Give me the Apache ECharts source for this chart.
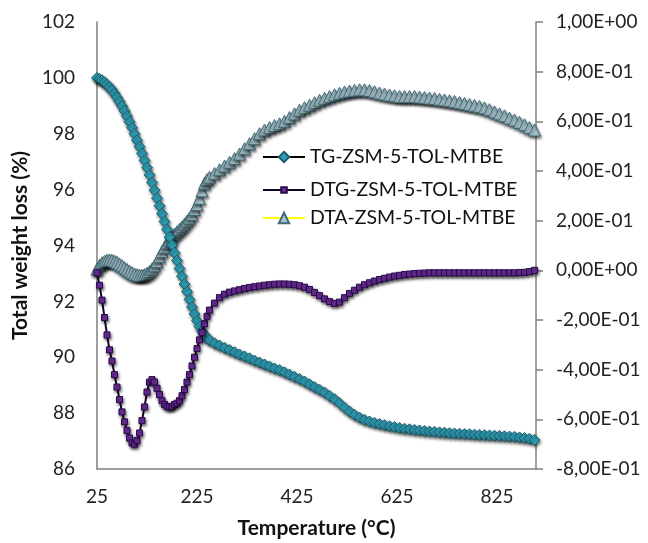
<!DOCTYPE html>
<html>
<head>
<meta charset="utf-8">
<script src="https://cdn.jsdelivr.net/npm/echarts@6/dist/echarts.min.js"></script>
<style>
  html, body { margin: 0; padding: 0; background: #ffffff; }
  #chart { width: 648px; height: 543px; }
</style>
</head>
<body>
<div id="chart"></div>
<script>
// Temperature readings (°C)
const temperatures = [
  25, 30, 35, 40, 45, 50, 55, 60, 65, 70,
  75, 80, 85, 90, 95, 100, 105, 110, 115, 120,
  125, 130, 135, 140, 145, 150, 155, 160, 165, 170,
  175, 180, 185, 190, 195, 200, 205, 210, 215, 220,
  225, 230, 235, 240, 245, 250,
  260, 270, 280, 290, 300, 310, 320, 330, 340, 350,
  360, 370, 380, 390, 400, 410, 420, 430, 440, 450,
  460, 470, 480, 490, 500, 510, 520, 530, 540, 550,
  560, 570, 580, 590, 600, 610, 620, 630, 640, 650,
  660, 670, 680, 690, 700, 710, 720, 730, 740, 750,
  760, 770, 780, 790, 800, 810, 820, 830, 840, 850,
  860, 870, 880, 890, 900
];

// TG: total weight (%)
const tgValues = [
  100.00, 99.96, 99.91, 99.84, 99.76, 99.67, 99.57, 99.44, 99.30, 99.15,
  98.99, 98.82, 98.63, 98.43, 98.22, 98.00, 97.77, 97.54, 97.30, 97.05,
  96.79, 96.53, 96.26, 95.98, 95.70, 95.42, 95.14, 94.86, 94.58, 94.30,
  94.02, 93.74, 93.46, 93.18, 92.90, 92.62, 92.35, 92.07, 91.80, 91.55,
  91.31, 91.10, 90.93, 90.80, 90.70, 90.62,
  90.50, 90.42, 90.34, 90.26, 90.18, 90.10, 90.03, 89.96, 89.88, 89.81,
  89.74, 89.67, 89.60, 89.54, 89.46, 89.38, 89.30, 89.22, 89.13, 89.03,
  88.93, 88.84, 88.74, 88.62, 88.50, 88.36, 88.20, 88.06, 87.94, 87.84,
  87.76, 87.70, 87.65, 87.61, 87.57, 87.53, 87.50, 87.47, 87.44, 87.42,
  87.40, 87.38, 87.36, 87.34, 87.33, 87.31, 87.30, 87.28, 87.27, 87.26,
  87.25, 87.24, 87.23, 87.22, 87.21, 87.20, 87.19, 87.18, 87.17, 87.16,
  87.15, 87.13, 87.11, 87.08, 87.04
];

// DTG signal (secondary axis)
const dtgValues = [
  -0.01, -0.06, -0.12, -0.19, -0.26, -0.32, -0.365, -0.42, -0.47, -0.52,
  -0.57, -0.61, -0.645, -0.675, -0.695, -0.70, -0.685, -0.655, -0.605, -0.55,
  -0.49, -0.45, -0.44, -0.45, -0.475, -0.50, -0.525, -0.54, -0.548, -0.55,
  -0.548, -0.54, -0.535, -0.525, -0.505, -0.48, -0.45, -0.42, -0.385, -0.35,
  -0.315, -0.28, -0.25, -0.215, -0.185, -0.16,
  -0.132, -0.11, -0.096, -0.088, -0.083, -0.078, -0.073, -0.069, -0.066, -0.063,
  -0.06, -0.058, -0.056, -0.055, -0.055, -0.056, -0.058, -0.062, -0.068, -0.077,
  -0.089, -0.102, -0.115, -0.126, -0.133, -0.128, -0.11, -0.093, -0.08, -0.068,
  -0.058, -0.05, -0.043, -0.037, -0.032, -0.027, -0.023, -0.02, -0.017, -0.015,
  -0.013, -0.012, -0.011, -0.01, -0.01, -0.01, -0.01, -0.01, -0.01, -0.01,
  -0.01, -0.01, -0.01, -0.01, -0.01, -0.01, -0.01, -0.01, -0.01, -0.01,
  -0.01, -0.009, -0.008, -0.005, 0.0
];

// DTA signal (secondary axis)
const dtaValues = [
  0.005, 0.02, 0.03, 0.037, 0.041, 0.042, 0.041, 0.037, 0.032, 0.025,
  0.018, 0.01, 0.003, -0.004, -0.01, -0.015, -0.018, -0.02, -0.02, -0.017,
  -0.012, -0.005, 0.005, 0.018, 0.035, 0.055, 0.075, 0.093, 0.11, 0.122,
  0.134, 0.145, 0.155, 0.165, 0.175, 0.186, 0.198, 0.21, 0.225, 0.245,
  0.265, 0.29, 0.32, 0.35, 0.365, 0.375,
  0.39, 0.405, 0.42, 0.435, 0.45, 0.468, 0.49, 0.51, 0.53, 0.55,
  0.565, 0.575, 0.583, 0.59, 0.60, 0.615, 0.63, 0.645, 0.655, 0.665,
  0.675, 0.685, 0.693, 0.70, 0.707, 0.713, 0.718, 0.722, 0.725, 0.727,
  0.727, 0.724, 0.719, 0.714, 0.71, 0.706, 0.703, 0.70, 0.70, 0.70,
  0.70, 0.698, 0.696, 0.694, 0.692, 0.689, 0.686, 0.683, 0.68, 0.676,
  0.672, 0.668, 0.664, 0.66, 0.654, 0.647, 0.638, 0.63, 0.622, 0.613,
  0.605, 0.596, 0.586, 0.575, 0.565
];

const seriesNames = ['TG-ZSM-5-TOL-MTBE', 'DTG-ZSM-5-TOL-MTBE', 'DTA-ZSM-5-TOL-MTBE'];

const FONT = 'Lato, "Open Sans", sans-serif';

function pairs(values) {
  return temperatures.map((t, i) => [t, values[i]]);
}

// Spreadsheet-style scientific format: 8,00E-01
function sciComma(v) {
  if (Math.abs(v) < 1e-9) v = 0;
  const parts = v.toExponential(2).split('e');
  const mant = parts[0].replace('.', ',');
  let exp = parseInt(parts[1], 10);
  const sign = exp < 0 ? '-' : '+';
  exp = Math.abs(exp);
  return mant + 'E' + sign + (exp < 10 ? '0' + exp : String(exp));
}

const shadow = {
  shadowColor: 'rgba(0,0,0,0.55)',
  shadowBlur: 3,
  shadowOffsetX: 1,
  shadowOffsetY: 2
};

const legendText = { fontFamily: FONT, fontSize: 19.5, color: '#111111' };
const axisLabelStyle = { fontFamily: FONT, fontSize: 19, color: '#222222' };
const axisNameStyle = { fontFamily: FONT, fontSize: 21, fontWeight: 'bold', color: '#111111' };

const chart = echarts.init(document.getElementById('chart'), null, { renderer: 'canvas' });

chart.setOption({
  backgroundColor: '#ffffff',
  animation: false,
  textStyle: { fontFamily: FONT },
  grid: { left: 97, right: 112, top: 22, bottom: 74, containLabel: false, outerBoundsMode: 'none' },
  legend: [
    {
      orient: 'vertical',
      left: 262,
      top: 147,
      padding: 0,
      itemWidth: 42,
      itemHeight: 13,
      itemGap: 41,
      data: [seriesNames[0], seriesNames[2]],
      textStyle: legendText
    },
    {
      orient: 'vertical',
      left: 262,
      top: 180,
      padding: 0,
      itemWidth: 42,
      itemHeight: 7,
      data: [seriesNames[1]],
      textStyle: legendText
    }
  ],
  xAxis: {
    type: 'value',
    min: 25,
    max: 903,
    interval: 200,
    name: 'Temperature (°C)',
    nameLocation: 'middle',
    nameGap: 49,
    nameTextStyle: axisNameStyle,
    axisLine: { show: true, onZero: false, lineStyle: { color: '#7f7f7f', width: 1.5 } },
    axisTick: { show: false },
    splitLine: { show: false },
    axisLabel: Object.assign({
      margin: 18,
      showMaxLabel: false,
      formatter: v => String(Math.round(v))
    }, axisLabelStyle)
  },
  yAxis: [
    {
      type: 'value',
      min: 86,
      max: 102,
      interval: 2,
      position: 'left',
      name: 'Total weight loss (%)',
      nameLocation: 'middle',
      nameRotate: 90,
      nameGap: 62,
      nameTextStyle: axisNameStyle,
      axisLine: { show: true, onZero: false, lineStyle: { color: '#7f7f7f', width: 1.5 } },
      axisTick: { show: false },
      splitLine: { show: false },
      axisLabel: Object.assign({ margin: 22 }, axisLabelStyle)
    },
    {
      type: 'value',
      min: -0.8,
      max: 1,
      interval: 0.2,
      position: 'right',
      axisLine: { show: true, onZero: false, lineStyle: { color: '#7f7f7f', width: 1.5 } },
      axisTick: { show: true, inside: false, length: 7, lineStyle: { color: '#7f7f7f', width: 1.5 } },
      splitLine: { show: false },
      axisLabel: Object.assign({ margin: 20, formatter: sciComma }, axisLabelStyle)
    }
  ],
  series: [
    {
      name: seriesNames[2],
      type: 'line',
      yAxisIndex: 1,
      data: pairs(dtaValues),
      z: 2,
      symbol: 'triangle',
      symbolSize: 12,
      showAllSymbol: true,
      lineStyle: { color: '#ffff00', width: 2.5 },
      itemStyle: Object.assign({ color: '#a9c3cc', borderColor: '#3f6b78', borderWidth: 1 }, shadow)
    },
    {
      name: seriesNames[0],
      type: 'line',
      yAxisIndex: 0,
      data: pairs(tgValues),
      z: 3,
      symbol: 'diamond',
      symbolSize: 11,
      showAllSymbol: true,
      lineStyle: { color: '#000000', width: 2 },
      itemStyle: Object.assign({ color: '#2f9db3', borderColor: '#1b5f6e', borderWidth: 1 }, shadow)
    },
    {
      name: seriesNames[1],
      type: 'line',
      yAxisIndex: 1,
      data: pairs(dtgValues),
      z: 4,
      symbol: 'rect',
      symbolSize: 6,
      showAllSymbol: true,
      lineStyle: { color: '#14062a', width: 2 },
      itemStyle: Object.assign({ color: '#7030a0', borderColor: '#2a0a4a', borderWidth: 1 }, shadow)
    }
  ]
});
</script>
</body>
</html>
